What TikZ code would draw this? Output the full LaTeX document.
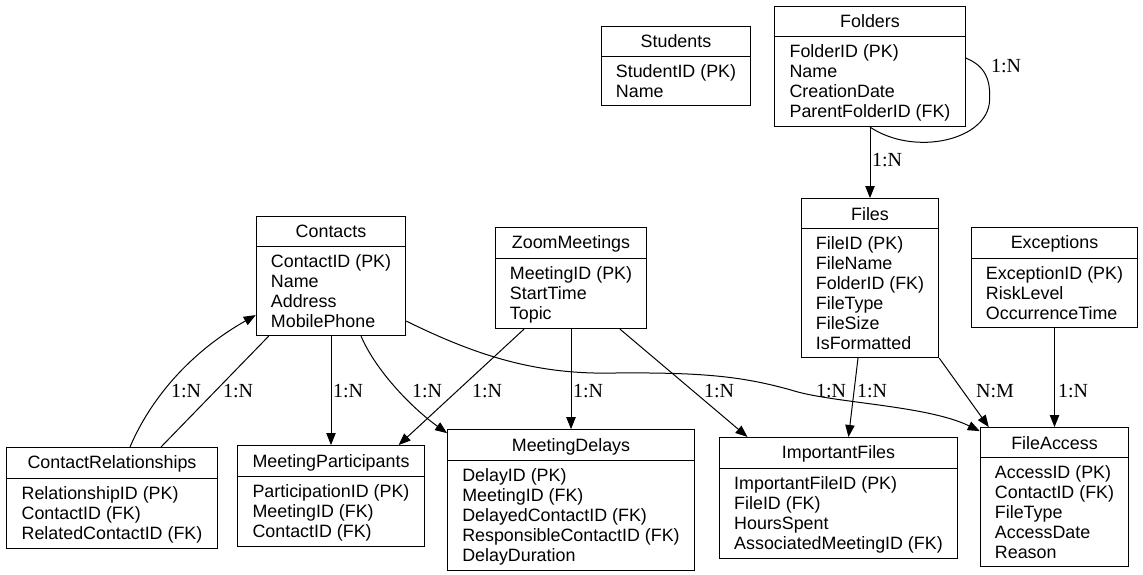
\documentclass[tikz,border=0pt]{standalone}
\usepackage{fontspec}
\setmainfont{Liberation Sans}
\newfontfamily\lblfont{Liberation Serif}
\usetikzlibrary{arrows.meta, positioning, shapes.multipart, calc}

% strut for every line of a table box
\newcommand{\fs}{\rule[-2pt]{0pt}{14pt}}

\begin{document}
\begin{tikzpicture}[
    x=0.75pt, y=-0.75pt,
    entity/.style={rectangle split, rectangle split parts=2, draw, line width=0.75pt,
        align=left, rectangle split part align={center,left},
        inner xsep=11pt, inner ysep=3.7pt, font=\fontsize{13.4}{15}\selectfont},
    arrow/.style={-{Triangle[length=9pt,width=7pt]}, line width=0.75pt},
    link/.style={line width=0.75pt},
    lbl/.style={font=\lblfont\fontsize{15}{17}\selectfont, inner sep=0pt}
]
\path[use as bounding box, fill=white] (0,0) rectangle (1143,575);

\node[entity, anchor=north] (students) at (676,26) {\fs Students
    \nodepart{two} \fs StudentID (PK)\\ \fs Name};
\node[entity, anchor=north] (folders) at (870,6) {\fs Folders
    \nodepart{two} \fs FolderID (PK)\\ \fs Name\\ \fs CreationDate\\ \fs ParentFolderID (FK)};
\node[entity, below=53.25pt of folders] (files) {\fs Files
    \nodepart{two} \fs FileID (PK)\\ \fs FileName\\ \fs FolderID (FK)\\ \fs FileType\\ \fs FileSize\\ \fs IsFormatted};
\node[entity, anchor=north] (exceptions) at (1054.5,227) {\fs Exceptions
    \nodepart{two} \fs ExceptionID (PK)\\ \fs RiskLevel\\ \fs OccurrenceTime};
\node[entity, below=74.25pt of exceptions] (fileaccess) {\fs FileAccess
    \nodepart{two} \fs AccessID (PK)\\ \fs ContactID (FK)\\ \fs FileType\\ \fs AccessDate\\ \fs Reason};
\node[entity, anchor=north] (contacts) at (331,216) {\fs Contacts
    \nodepart{two} \fs ContactID (PK)\\ \fs Name\\ \fs Address\\ \fs MobilePhone};
\node[entity, below=81.75pt of contacts] (participants) {\fs MeetingParticipants
    \nodepart{two} \fs ParticipationID (PK)\\ \fs MeetingID (FK)\\ \fs ContactID (FK)};
\node[entity, anchor=north] (zoom) at (571,227) {\fs ZoomMeetings
    \nodepart{two} \fs MeetingID (PK)\\ \fs StartTime\\ \fs Topic};
\node[entity, below=75pt of zoom] (delays) {\fs MeetingDelays
    \nodepart{two} \fs DelayID (PK)\\ \fs MeetingID (FK)\\ \fs DelayedContactID (FK)\\ \fs ResponsibleContactID (FK)\\ \fs DelayDuration};
\node[entity, anchor=north] (relations) at (112,447) {\fs ContactRelationships
    \nodepart{two} \fs RelationshipID (PK)\\ \fs ContactID (FK)\\ \fs RelatedContactID (FK)};
\node[entity, anchor=north] (important) at (838.5,437) {\fs ImportantFiles
    \nodepart{two} \fs ImportantFileID (PK)\\ \fs FileID (FK)\\ \fs HoursSpent\\ \fs AssociatedMeetingID (FK)};

% folders
\draw[link] ($(folders.north east)+(0,52)$) .. controls +(20,8) and +(1,-20) .. ++(24,42)
    .. controls +(-1,40) and +(45,30) .. (folders.south) node[lbl] at (1006,66) {1:N};
\draw[arrow] (folders.south) -- (files.north) node[lbl] at (887,160) {1:N};

% contacts
\draw[arrow] ($(relations.north)+(18,0)$) .. controls +(20,-47) and +(-67,38) .. ($(contacts.south west)+(0,-21)$)
    node[lbl] at (186,391) {1:N};
\draw[link] ($(contacts.south west)+(13,0)$) -- ($(relations.north)+(49,0)$) node[lbl] at (238,391) {1:N};
\draw[arrow] (contacts.south) -- (participants.north) node[lbl] at (348,391) {1:N};
\draw[arrow] ($(contacts.south)+(30,0)$) .. controls +(15,35) and +(-35,-25) .. ($(delays.north west)+(0,4)$)
    node[lbl] at (427,391) {1:N};
\draw[arrow] ($(contacts.south east)+(0,-15)$) .. controls +(65,32) and +(-77,1) .. ++(202,52)
    .. controls +(93,-1) and +(-50,-14) .. ++(183,17)
    .. controls +(40,13) and +(-53,-26) .. ($(fileaccess.north west)+(0,4)$) node[lbl] at (831,391) {1:N};

% meetings
\draw[arrow] ($(zoom.south)+(-47,0)$) -- ($(participants.north east)+(-26,0)$) node[lbl] at (487,391) {1:N};
\draw[arrow] (zoom.south) -- (delays.north) node[lbl] at (588,391) {1:N};
\draw[arrow] ($(zoom.south)+(49,0)$) -- ($(important.north)+(-91,0)$) node[lbl] at (719,391) {1:N};

% files
\draw[arrow] ($(files.south)+(-12,0)$) -- ($(important.north)+(10,0)$) node[lbl] at (872,391) {1:N};
\draw[arrow] (files.south east) -- ($(fileaccess.north west)+(9,0)$) node[lbl] at (995,391) {N:M};
\draw[arrow] (exceptions.south) -- (exceptions.south |- fileaccess.north) node[lbl] at (1073,391) {1:N};

\end{tikzpicture}
\end{document}
